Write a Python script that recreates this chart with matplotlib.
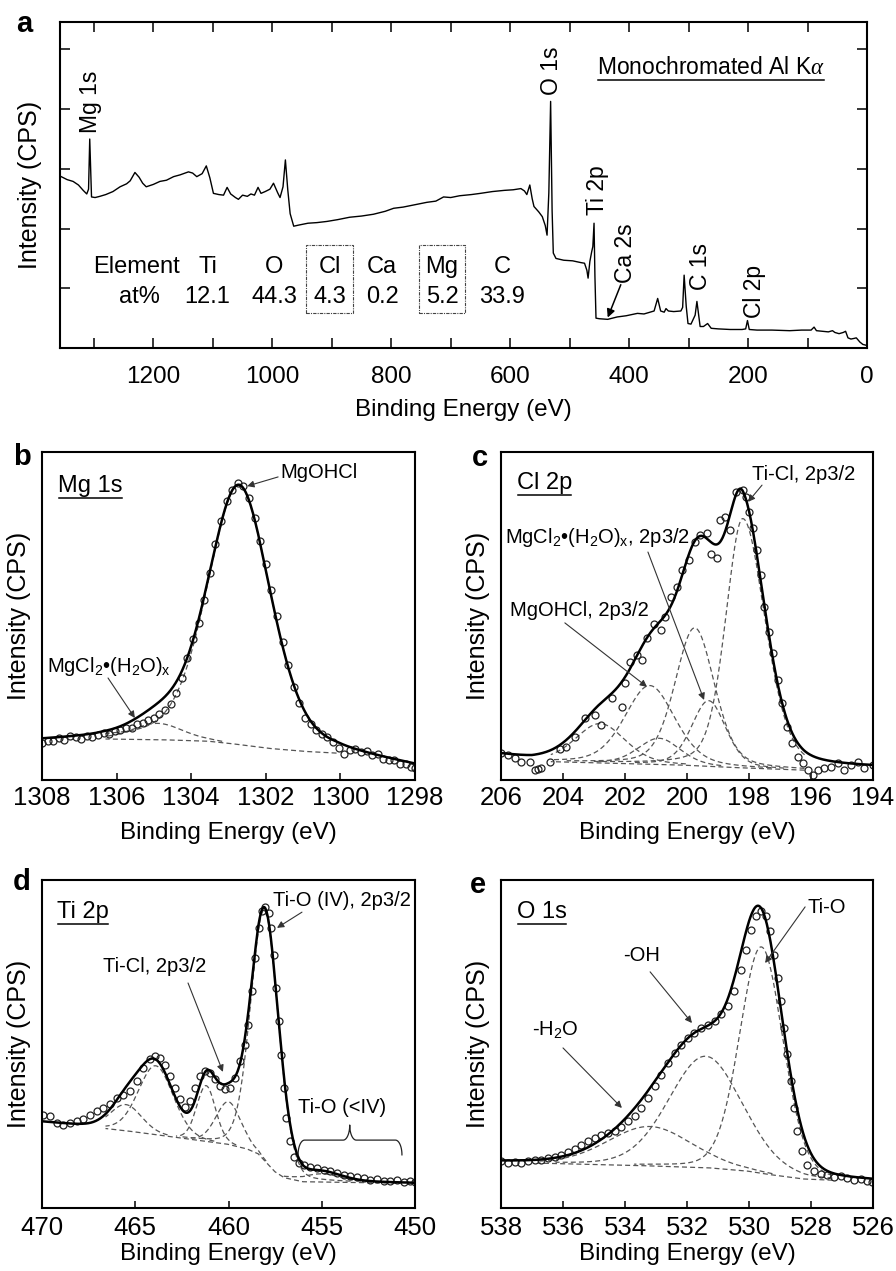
import numpy as np
import matplotlib
matplotlib.use("Agg")
import matplotlib.pyplot as plt
from matplotlib.lines import Line2D
from matplotlib.patches import Rectangle

plt.rcParams['font.family'] = ['Liberation Sans', 'DejaVu Sans']
plt.rcParams['mathtext.fontset'] = 'custom'
plt.rcParams['mathtext.rm'] = 'Liberation Sans'
plt.rcParams['mathtext.it'] = 'Liberation Serif:italic'
plt.rcParams['mathtext.default'] = 'regular'

# ---------------- survey spectrum (panel a) ----------------
survey_be = [1355, 1345, 1335, 1326, 1318, 1312, 1309, 1307, 1304, 1298, 1290, 1280,
             1268, 1256, 1245, 1239, 1231, 1224, 1218, 1212, 1200, 1189, 1178, 1166,
             1155, 1141, 1134, 1127, 1118, 1111, 1105, 1099, 1090, 1082, 1076, 1070,
             1062, 1057, 1050, 1042, 1036, 1030, 1024, 1019, 1012, 1004, 998, 991,
             987, 982, 978, 974, 970, 964, 955, 940, 925, 908, 890, 870, 850, 830,
             810, 796, 780, 760, 740, 725, 712, 700, 685, 665, 650, 630, 610, 595,
             582, 576, 572, 567, 563, 560, 552, 546, 541, 538, 535, 532, 529.5,
             527.5, 523, 510, 495, 481, 475, 471, 469, 466, 463, 461, 459, 457.5,
             455.7, 450, 436, 420, 405, 386, 375, 365, 358, 352, 347, 341, 338, 334,
             325, 313, 310, 307.5, 304, 301, 296, 289, 286, 283, 280.6, 275, 268,
             262, 250, 230, 210, 204, 201, 198, 185, 160, 130, 110, 94, 89, 85, 75,
             65, 58, 54, 47, 40, 36, 32, 27, 22, 18, 12, 7, 3, 0]
survey_cps = [2.87, 2.82, 2.79, 2.73, 2.64, 2.58, 2.66, 3.50, 2.53, 2.52, 2.54, 2.57,
              2.62, 2.70, 2.75, 2.80, 2.94, 2.86, 2.76, 2.70, 2.74, 2.79, 2.81, 2.87,
              2.90, 2.95, 2.93, 2.87, 2.92, 3.05, 2.85, 2.59, 2.57, 2.56, 2.69, 2.58,
              2.52, 2.49, 2.56, 2.54, 2.58, 2.56, 2.69, 2.59, 2.62, 2.66, 2.76, 2.60,
              2.52, 2.70, 3.15, 2.65, 2.25, 2.04, 2.06, 2.09, 2.10, 2.12, 2.15, 2.19,
              2.21, 2.24, 2.29, 2.34, 2.36, 2.40, 2.44, 2.46, 2.53, 2.52, 2.55, 2.57,
              2.59, 2.62, 2.64, 2.65, 2.67, 2.63, 2.57, 2.73, 2.50, 2.37, 2.28, 2.20,
              2.05, 1.89, 2.60, 4.13, 2.30, 1.59, 1.50, 1.47, 1.46, 1.43, 1.42, 1.30,
              1.17, 1.45, 1.61, 1.70, 2.09, 1.20, 0.50, 0.49, 0.48, 0.52, 0.54, 0.58,
              0.57, 0.60, 0.62, 0.83, 0.62, 0.60, 0.66, 0.62, 0.61, 0.62, 0.68, 1.22,
              0.70, 0.41, 0.40, 0.55, 0.78, 0.55, 0.36, 0.36, 0.41, 0.33, 0.32, 0.31,
              0.31, 0.32, 0.46, 0.31, 0.30, 0.30, 0.29, 0.30, 0.30, 0.35, 0.29, 0.28,
              0.27, 0.29, 0.26, 0.24, 0.26, 0.28, 0.17, 0.15, 0.16, 0.17, 0.10, 0.06,
              0.05, 0.04]

# peak labels on the survey: text, binding energy, label base height
survey_labels = ['Mg 1s', 'O 1s', 'Ti 2p', 'C 1s', 'Cl 2p']
survey_label_be = [1305, 530, 453, 279.5, 190]
survey_label_y = [3.60, 4.24, 2.23, 0.97, 0.50]

elements = ['Ti', 'O', 'Cl', 'Ca', 'Mg', 'C']
at_percent = [12.1, 44.3, 4.3, 0.2, 5.2, 33.9]

# ---------------- Mg 1s (panel b) ----------------
mg_be = [1308.0, 1307.85, 1307.7, 1307.55, 1307.4, 1307.25, 1307.1, 1306.95, 1306.8,
         1306.65, 1306.5, 1306.35, 1306.2, 1306.05, 1305.9, 1305.75, 1305.6, 1305.45,
         1305.3, 1305.15, 1305.0, 1304.85, 1304.7, 1304.55, 1304.4, 1304.25, 1304.1,
         1303.95, 1303.8, 1303.65, 1303.5, 1303.35, 1303.2, 1303.05, 1302.9, 1302.75,
         1302.6, 1302.45, 1302.3, 1302.15, 1302.0, 1301.85, 1301.7, 1301.55, 1301.4,
         1301.25, 1301.1, 1300.95, 1300.8, 1300.65, 1300.5, 1300.35, 1300.2, 1300.05,
         1299.9, 1299.75, 1299.6, 1299.45, 1299.3, 1299.15, 1299.0, 1298.85, 1298.7,
         1298.55, 1298.4, 1298.25, 1298.1, 1298.0]
mg_cps = [0.112, 0.120, 0.118, 0.128, 0.122, 0.133, 0.130, 0.126, 0.135, 0.131, 0.138,
          0.142, 0.140, 0.150, 0.152, 0.160, 0.158, 0.170, 0.175, 0.182, 0.190, 0.200,
          0.213, 0.232, 0.265, 0.310, 0.372, 0.430, 0.480, 0.550, 0.630, 0.720, 0.790,
          0.850, 0.885, 0.905, 0.895, 0.860, 0.800, 0.730, 0.660, 0.580, 0.500, 0.420,
          0.350, 0.285, 0.235, 0.190, 0.170, 0.152, 0.140, 0.130, 0.115, 0.098, 0.080,
          0.090, 0.094, 0.085, 0.088, 0.075, 0.078, 0.065, 0.060, 0.062, 0.050, 0.048,
          0.040, 0.036]
mg_bg_be = [1308.0, 1306.3, 1304.5, 1303.5, 1302.7, 1301.8, 1300.8, 1300.1, 1299.0, 1298.0]
mg_bg_cps = [0.118, 0.125, 0.122, 0.118, 0.108, 0.095, 0.086, 0.082, 0.060, 0.040]
mg_window = (1306.3, 1300.1)
mg_centers = [1302.72, 1304.9]
mg_heights = [0.79, 0.05]
mg_fwhm = [2.0, 1.6]

# ---------------- Cl 2p (panel c) ----------------
cl_be = [206.0, 205.78, 205.56, 205.34, 205.07, 204.91, 204.8, 204.7, 204.43, 204.1,
         203.9, 203.62, 203.3, 202.98, 202.77, 202.42, 202.1, 201.99, 201.83, 201.6,
         201.45, 201.29, 201.07, 200.85, 200.7, 200.53, 200.32, 200.16, 199.94, 199.73,
         199.57, 199.35, 199.24, 199.03, 198.92, 198.76, 198.6, 198.43, 198.2, 198.1,
         198.0, 197.88, 197.74, 197.61, 197.5, 197.35, 197.24, 197.08, 196.92, 196.76,
         196.6, 196.43, 196.27, 196.11, 195.95, 195.79, 195.57, 195.35, 195.14, 194.92,
         194.71, 194.49, 194.28, 194.01]
cl_cps = [0.081, 0.076, 0.066, 0.056, 0.056, 0.031, 0.033, 0.036, 0.056, 0.096, 0.101,
          0.130, 0.190, 0.197, 0.167, 0.249, 0.223, 0.295, 0.360, 0.380, 0.365, 0.432,
          0.477, 0.457, 0.498, 0.559, 0.589, 0.640, 0.671, 0.727, 0.747, 0.752, 0.690,
          0.676, 0.793, 0.803, 0.762, 0.879, 0.884, 0.864, 0.818, 0.767, 0.701, 0.625,
          0.528, 0.452, 0.386, 0.305, 0.234, 0.163, 0.112, 0.071, 0.051, 0.031, 0.015,
          0.031, 0.036, 0.041, 0.051, 0.031, 0.046, 0.056, 0.036, 0.046]
cl_bg_be = [206.0, 205.0, 204.4, 202.0, 200.0, 198.0, 196.2, 194.0]
cl_bg_cps = [0.072, 0.058, 0.056, 0.050, 0.045, 0.036, 0.030, 0.032]
cl_window = (204.4, 196.2)
cl_centers = [198.2, 199.75, 199.3, 200.9, 201.2, 202.8]
cl_heights = [0.76, 0.42, 0.20, 0.08, 0.24, 0.12]
cl_fwhm = [1.3, 1.5, 1.3, 1.6, 1.9, 1.9]
cl_fwhm_low = [1.7, 1.5, 1.3, 1.6, 1.9, 1.9]

# ---------------- Ti 2p (panel d) ----------------
ti_be = [469.93, 469.57, 469.21, 468.86, 468.5, 468.14, 467.78, 467.43, 467.07, 466.71,
         466.35, 466.0, 465.64, 465.28, 464.92, 464.57, 464.21, 463.94, 463.67, 463.4,
         463.13, 462.86, 462.6, 462.33, 462.06, 461.79, 461.53, 461.26, 460.99, 460.72,
         460.45, 460.19, 459.92, 459.65, 459.38, 459.11, 458.93, 458.75, 458.57, 458.39,
         458.21, 458.03, 457.85, 457.71, 457.58, 457.44, 457.31, 457.19, 457.05, 456.9,
         456.72, 456.51, 456.24, 455.97, 455.61, 455.26, 454.9, 454.54, 454.18, 453.82,
         453.47, 453.11, 452.75, 452.4, 452.04, 451.68, 451.32, 450.97, 450.61, 450.25,
         449.98]
ti_cps = [0.285, 0.280, 0.259, 0.254, 0.259, 0.266, 0.270, 0.285, 0.295, 0.306, 0.318,
          0.336, 0.344, 0.356, 0.386, 0.427, 0.453, 0.463, 0.458, 0.437, 0.402, 0.366,
          0.331, 0.307, 0.325, 0.366, 0.402, 0.419, 0.412, 0.392, 0.371, 0.363, 0.366,
          0.397, 0.447, 0.498, 0.559, 0.661, 0.762, 0.854, 0.905, 0.917, 0.900, 0.854,
          0.772, 0.671, 0.569, 0.467, 0.366, 0.274, 0.203, 0.157, 0.137, 0.130, 0.124,
          0.122, 0.116, 0.112, 0.107, 0.102, 0.099, 0.095, 0.091, 0.086, 0.089, 0.083,
          0.081, 0.084, 0.079, 0.081, 0.079]
ti_bg_be = [470.0, 467.0, 465.0, 462.0, 460.0, 459.0, 458.4, 458.0, 457.5, 457.0, 456.0, 450.0]
ti_bg_cps = [0.262, 0.245, 0.232, 0.209, 0.194, 0.180, 0.165, 0.140, 0.110, 0.092, 0.080, 0.075]
ti_window = (466.6, 451.0)
ti_centers = [458.05, 463.9, 460.0, 465.5, 461.2, 455.0]
ti_heights = [0.765, 0.21, 0.13, 0.08, 0.17, 0.025]
ti_fwhm = [1.75, 2.2, 1.6, 2.0, 1.2, 2.5]

# ---------------- O 1s (panel e) ----------------
o_be = [538.0, 537.77, 537.56, 537.34, 537.13, 536.91, 536.7, 536.48, 536.27, 536.05,
        535.84, 535.62, 535.41, 535.19, 534.98, 534.76, 534.55, 534.33, 534.12, 533.9,
        533.69, 533.47, 533.26, 533.04, 532.83, 532.61, 532.4, 532.18, 531.97, 531.76,
        531.54, 531.33, 531.11, 530.9, 530.68, 530.47, 530.25, 530.09, 529.93, 529.77,
        529.61, 529.45, 529.31, 529.18, 529.08, 528.97, 528.86, 528.76, 528.65, 528.54,
        528.44, 528.28, 528.12, 527.9, 527.69, 527.47, 527.26, 527.04, 526.83, 526.61,
        526.4, 526.18, 526.02]
o_cps = [0.142, 0.137, 0.140, 0.137, 0.144, 0.147, 0.147, 0.152, 0.157, 0.162, 0.172,
         0.181, 0.193, 0.203, 0.213, 0.223, 0.228, 0.235, 0.248, 0.264, 0.279, 0.305,
         0.335, 0.371, 0.407, 0.442, 0.473, 0.498, 0.518, 0.534, 0.549, 0.559, 0.569,
         0.590, 0.615, 0.661, 0.727, 0.788, 0.848, 0.889, 0.905, 0.889, 0.843, 0.772,
         0.701, 0.630, 0.549, 0.468, 0.386, 0.305, 0.234, 0.173, 0.132, 0.112, 0.104,
         0.102, 0.096, 0.099, 0.091, 0.086, 0.089, 0.081, 0.079]
o_bg_be = [538.0, 536.9, 533.0, 531.2, 530.0, 529.2, 528.2, 526.0]
o_bg_cps = [0.140, 0.137, 0.128, 0.122, 0.112, 0.100, 0.088, 0.080]
o_window = (536.8, 527.3)
o_centers = [529.6, 531.4, 533.2]
o_heights = [0.69, 0.34, 0.12]
o_fwhm = [1.65, 2.8, 3.2]


def gl_peak(be, center, height, fwhm_high, fwhm_low, mix=0.3):
    # Gaussian-Lorentzian line, optionally wider on the low binding-energy side
    fwhm = np.where(be >= center, fwhm_high, fwhm_low)
    u = (be - center) / fwhm
    return height * ((1 - mix) * np.exp(-4 * np.log(2) * u ** 2) + mix / (1 + 4 * u ** 2))


def plot_fit(ax, be, cps, bg_be, bg_cps, window, centers, heights, fwhm, xlim,
             fwhm_low=None, mix=0.3, tick_pad=5, xlabel_y=-0.1):
    if fwhm_low is None:
        fwhm_low = fwhm
    grid = np.linspace(xlim[1], xlim[0], 800)
    bg = np.interp(grid, bg_be[::-1], bg_cps[::-1])
    comps = [gl_peak(grid, c, h, wh, wl, mix)
             for c, h, wh, wl in zip(centers, heights, fwhm, fwhm_low)]
    env = bg + np.sum(comps, axis=0)
    inside = (grid <= window[0]) & (grid >= window[1])
    dash = dict(color='#555555', lw=0.9, dashes=(4, 2.5))
    ax.plot(grid[inside], bg[inside], **dash)
    for comp in comps:
        keep = inside & (comp > 0.004)
        ax.plot(grid[keep], (bg + comp)[keep], **dash)
    ax.plot(be, cps, 'o', ms=5, mfc='none', mec='#222222', mew=0.9)
    ax.plot(grid, env, color='k', lw=1.8)
    ax.set_xlim(*xlim)
    ax.set_ylim(0, 1)
    ax.set_yticks([])
    ax.tick_params(axis='x', direction='in', length=5, width=1.1, labelsize=18.5,
                   pad=tick_pad)
    for s in ax.spines.values():
        s.set_linewidth(1.5)
    ax.set_xlabel('Binding Energy (eV)', fontsize=17.5)
    ax.xaxis.set_label_coords(0.5, xlabel_y)
    ax.set_ylabel('Intensity (CPS)', fontsize=18)
    ax.yaxis.set_label_coords(-0.03, 0.5)


def point_to(ax, tip, tail):
    ax.annotate('', xy=tip, xytext=tail,
                arrowprops=dict(arrowstyle='-|>', color='#333333', lw=0.8,
                                mutation_scale=10, shrinkA=0, shrinkB=0))


def curly_brace(ax, x0, x1, xm, y_end, y_mid, y_tip, r):
    th = np.linspace(0, np.pi / 2, 20)
    bx = np.concatenate([x0 - r + r * np.cos(th),
                         xm + r - r * np.sin(th),
                         xm - r + r * np.sin(th[::-1]),
                         x1 + r - r * np.cos(th[::-1])])
    by = np.concatenate([y_end + (y_mid - y_end) * np.sin(th),
                         y_tip - (y_tip - y_mid) * np.cos(th),
                         y_tip - (y_tip - y_mid) * np.cos(th[::-1]),
                         y_end + (y_mid - y_end) * np.sin(th[::-1])])
    ax.plot(bx, by, color='#222222', lw=0.9)


fig = plt.figure(figsize=(8.96, 12.71), dpi=100)
W, H = 896.0, 1271.0


def add_axes_px(x0, y0, x1, y1):
    return fig.add_axes([x0 / W, 1 - y1 / H, (x1 - x0) / W, (y1 - y0) / H])


ax_a = add_axes_px(60, 22, 867, 348)
ax_b = add_axes_px(42, 452, 415, 780)
ax_c = add_axes_px(501, 452, 873, 780)
ax_d = add_axes_px(42, 880, 415, 1208)
ax_e = add_axes_px(501, 880, 873, 1208)

# ---- a: survey ----
ax_a.plot(survey_be, survey_cps, color='k', lw=1.0)
ax_a.set_xlim(1357, 0)
ax_a.set_ylim(0, 5.46)
ax_a.set_xticks(np.arange(0, 1201, 200))
ax_a.set_xticks(np.arange(100, 1301, 100), minor=True)
ax_a.set_yticks([1, 2, 3, 4, 5])
ax_a.tick_params(which='both', direction='in', length=7, width=1.1, top=True, right=True,
                 labelleft=False, labelsize=17.5, pad=13)
for s in ax_a.spines.values():
    s.set_linewidth(1.5)
ax_a.set_xlabel('Binding Energy (eV)', fontsize=17.5)
ax_a.xaxis.set_label_coords(0.5, -0.155)
ax_a.set_ylabel('Intensity (CPS)', fontsize=18)
ax_a.yaxis.set_label_coords(-0.022, 0.5)

for lab, be, yy in zip(survey_labels, survey_label_be, survey_label_y):
    ax_a.text(be, yy, lab, rotation=90, ha='center', va='bottom', fontsize=16.5)
ax_a.text(406, 1.09, 'Ca 2s', rotation=90, ha='center', va='bottom', fontsize=16.5)
ax_a.annotate('', xy=(436, 0.51), xytext=(414, 1.06),
              arrowprops=dict(arrowstyle='-|>', color='k', lw=1.1, mutation_scale=12,
                              shrinkA=0, shrinkB=0))

mono = ax_a.text(0.6654, 0.860, r'Monochromated Al K$\mathit{\alpha}$', transform=ax_a.transAxes,
                 ha='left', va='center', fontsize=16.5)

col_x = [(px - 60) / 807 for px in (207.5, 274, 329.5, 382, 442, 502)]
ax_a.text((136.5 - 60) / 807, 0.2485, 'Element', transform=ax_a.transAxes,
          ha='center', va='center', fontsize=17)
ax_a.text((139 - 60) / 807, 0.1564, 'at%', transform=ax_a.transAxes,
          ha='center', va='center', fontsize=17)
for cx, el, val in zip(col_x, elements, at_percent):
    ax_a.text(cx, 0.2485, el, transform=ax_a.transAxes, ha='center', va='center', fontsize=17)
    ax_a.text(cx, 0.1564, f'{val:.1f}', transform=ax_a.transAxes, ha='center', va='center',
              fontsize=17)
for el in ('Cl', 'Mg'):
    cx = col_x[elements.index(el)]
    ax_a.add_patch(Rectangle((cx - 0.029, 0.107), 0.058, 0.209, transform=ax_a.transAxes,
                             fill=False, ec='#444444', lw=0.8, ls=(0, (3, 1, 1, 1))))

# ---- b: Mg 1s ----
plot_fit(ax_b, mg_be, mg_cps, mg_bg_be, mg_bg_cps, mg_window, mg_centers, mg_heights,
         mg_fwhm, (1308, 1298), tick_pad=4, xlabel_y=-0.128)
ax_b.set_xticks(np.arange(1298, 1309, 2))
t_b = ax_b.text(1307.57, 0.896, 'Mg 1s', ha='left', va='center', fontsize=17)
ax_b.text(1301.62, 0.936, 'MgOHCl', ha='left', va='center', fontsize=14.5)
point_to(ax_b, (1302.5, 0.896), (1301.67, 0.924))
ax_b.text(1307.87, 0.345, r'MgCl$_2$•(H$_2$O)$_x$', ha='left', va='center', fontsize=14.5)
point_to(ax_b, (1305.51, 0.189), (1306.23, 0.311))

# ---- c: Cl 2p ----
plot_fit(ax_c, cl_be, cl_cps, cl_bg_be, cl_bg_cps, cl_window, cl_centers, cl_heights,
         cl_fwhm, (206, 194), fwhm_low=cl_fwhm_low, tick_pad=4, xlabel_y=-0.128)
ax_c.set_xticks(np.arange(194, 207, 2))
t_c = ax_c.text(205.48, 0.905, 'Cl 2p', ha='left', va='center', fontsize=17)
ax_c.text(197.9, 0.93, 'Ti-Cl, 2p3/2', ha='left', va='center', fontsize=14.5)
point_to(ax_c, (198.03, 0.848), (197.58, 0.899))
ax_c.text(205.87, 0.738, r'MgCl$_2$•(H$_2$O)$_x$, 2p3/2', ha='left', va='center', fontsize=14.5)
point_to(ax_c, (199.45, 0.244), (201.26, 0.695))
ax_c.text(205.71, 0.518, 'MgOHCl, 2p3/2', ha='left', va='center', fontsize=14.5)
point_to(ax_c, (201.29, 0.284), (203.94, 0.479))

# ---- d: Ti 2p ----
plot_fit(ax_d, ti_be, ti_cps, ti_bg_be, ti_bg_cps, ti_window, ti_centers, ti_heights,
         ti_fwhm, (470, 450), mix=0.15, tick_pad=6, xlabel_y=-0.106)
ax_d.set_xticks(np.arange(450, 471, 5))
t_d = ax_d.text(469.2, 0.902, 'Ti 2p', ha='left', va='center', fontsize=17)
ax_d.text(457.61, 0.939, 'Ti-O (IV), 2p3/2', ha='left', va='center', fontsize=14.5)
point_to(ax_d, (457.4, 0.854), (456.06, 0.902))
ax_d.text(466.73, 0.735, 'Ti-Cl, 2p3/2', ha='left', va='center', fontsize=14.5)
point_to(ax_d, (460.3, 0.415), (462.17, 0.686))
ax_d.text(456.27, 0.305, 'Ti-O (<IV)', ha='left', va='center', fontsize=14.5)
curly_brace(ax_d, 456.27, 450.7, 453.5, 0.162, 0.207, 0.253, 0.35)

# ---- e: O 1s ----
plot_fit(ax_e, o_be, o_cps, o_bg_be, o_bg_cps, o_window, o_centers, o_heights,
         o_fwhm, (538, 526), mix=0.15, tick_pad=6, xlabel_y=-0.106)
ax_e.set_xticks(np.arange(526, 539, 2))
t_e = ax_e.text(537.48, 0.902, 'O 1s', ha='left', va='center', fontsize=17)
ax_e.text(528.1, 0.915, 'Ti-O', ha='left', va='center', fontsize=14.5)
point_to(ax_e, (529.48, 0.747), (528.19, 0.918))
ax_e.text(534.06, 0.771, '-OH', ha='left', va='center', fontsize=14.5)
point_to(ax_e, (531.84, 0.564), (533.19, 0.72))
ax_e.text(537.0, 0.543, r'-H$_2$O', ha='left', va='center', fontsize=14.5)
point_to(ax_e, (534.1, 0.305), (536.0, 0.488))

# panel letters
for letter, px, py in (('a', 16, 24), ('b', 13, 457), ('c', 472, 458),
                       ('d', 13, 882), ('e', 470, 885)):
    fig.text(px / W, 1 - py / H, letter, fontsize=21, fontweight='bold', ha='left', va='center')

# underline the region labels
fig.canvas.draw()
renderer = fig.canvas.get_renderer()
inv = fig.transFigure.inverted()
for t in (mono, t_b, t_c, t_d, t_e):
    bb = t.get_window_extent(renderer=renderer)
    (ux0, uy), (ux1, _) = inv.transform([(bb.x0 + 1, bb.y0 - 1), (bb.x1 - 1, bb.y0 - 1)])
    fig.add_artist(Line2D([ux0, ux1], [uy, uy], transform=fig.transFigure, color='k', lw=1.1))

fig.savefig('out.png', dpi=100)
